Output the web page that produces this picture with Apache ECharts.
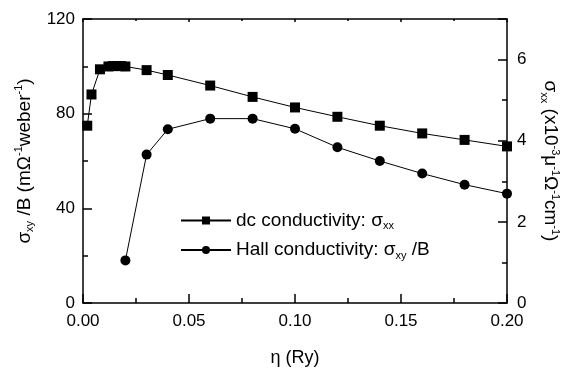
<!DOCTYPE html>
<html>
<head>
  <meta charset="utf-8">
  <title>Conductivity vs eta</title>
  <script src="https://cdn.jsdelivr.net/npm/echarts@6/dist/echarts.min.js"></script>
  <style>
    html, body { margin: 0; padding: 0; background: #fff; }
  </style>
</head>
<body>
<div id="main" style="width: 565px;height: 369px"></div>
<script type="text/javascript">
  // eta (Ry) for the dc points and the Hall points
  var etaDc = [0.002, 0.004, 0.008, 0.012, 0.014, 0.016, 0.018, 0.020, 0.030, 0.040,
               0.060, 0.080, 0.100, 0.120, 0.140, 0.160, 0.180, 0.200];
  var sigmaXX = [4.37, 5.14, 5.76, 5.83, 5.84, 5.84, 5.84, 5.83, 5.74, 5.62,
                 5.36, 5.08, 4.82, 4.59, 4.37, 4.18, 4.02, 3.86];
  var etaHall = [0.02, 0.03, 0.04, 0.06, 0.08, 0.10, 0.12, 0.14, 0.16, 0.18, 0.20];
  var hallB = [18.0, 62.7, 73.4, 77.9, 77.9, 73.6, 65.8, 60.0, 54.7, 50.0, 46.2];

  function pairs(xs, ys) {
    var out = [];
    for (var i = 0; i < xs.length; i++) out.push([xs[i], ys[i]]);
    return out;
  }

  var font = 'Liberation Sans, Arial, sans-serif';
  var rich = {
    t: { fontSize: 19, lineHeight: 22, color: '#000', fontFamily: font },
    b: { fontSize: 11, lineHeight: 11, verticalAlign: 'bottom', color: '#000', fontFamily: font },
    p: { fontSize: 11, lineHeight: 11, verticalAlign: 'top', color: '#000', fontFamily: font }
  };
  function axisLine() { return { show: true, onZero: false, lineStyle: { color: '#000', width: 1.5 } }; }
  function tick(len) { return { show: true, inside: true, length: len, lineStyle: { color: '#000', width: 1.5 } }; }
  function minor(len) { return { show: true, splitNumber: 2, length: len, lineStyle: { color: '#000', width: 1.5 } }; }

  var myChart = echarts.init(document.getElementById('main'));
  var option = {
    animation: false,
    grid: { left: 83, right: 58, top: 19, bottom: 66, outerBoundsMode: 'none' },
    legend: {
      orient: 'vertical',
      left: 175,
      top: 206,
      itemWidth: 50,
      itemHeight: 10,
      itemGap: 9,
      data: ['dc', 'hall'],
      formatter: function (name) {
        return name === 'dc'
          ? '{t|dc conductivity: σ}{b|xx}'
          : '{t|Hall conductivity: σ}{b|xy}{t| /B}';
      },
      textStyle: { rich: rich }
    },
    xAxis: [{
      type: 'value', min: 0, max: 0.2, interval: 0.05,
      name: 'η (Ry)', nameLocation: 'middle', nameGap: 46,
      nameTextStyle: { fontSize: 18, color: '#000', fontFamily: font },
      axisLine: axisLine(),
      axisTick: tick(9),
      minorTick: minor(5),
      axisLabel: { fontSize: 17, color: '#000', fontFamily: font, margin: 10,
        formatter: function (v) { return v.toFixed(2); } },
      splitLine: { show: false },
      minorSplitLine: { show: false }
    }, {
      type: 'value', min: 0, max: 0.2, interval: 0.05, position: 'top',
      axisLine: axisLine(),
      axisTick: tick(3),
      minorTick: minor(2),
      axisLabel: { show: false },
      splitLine: { show: false }
    }],
    yAxis: [{
      type: 'value', min: 0, max: 120, interval: 40,
      name: '{t|σ}{b|xy}{t| /B (mΩ}{p|-1}{t|weber}{p|-1}{t|)}',
      nameLocation: 'middle', nameRotate: 90, nameGap: 38,
      nameTextStyle: { rich: rich },
      axisLine: axisLine(),
      axisTick: tick(9),
      minorTick: minor(5),
      axisLabel: { fontSize: 17, color: '#000', fontFamily: font, margin: 8 },
      splitLine: { show: false }
    }, {
      type: 'value', min: 0, max: 7, interval: 2, position: 'right',
      name: '{t|σ}{b|xx}{t| (x10}{p|-3}{t|μ}{p|-1}{t|Ω}{p|-1}{t|cm}{p|-1}{t|)}',
      nameLocation: 'middle', nameRotate: -90, nameGap: 32,
      nameTextStyle: { rich: rich },
      axisLine: axisLine(),
      axisTick: tick(9),
      minorTick: minor(5),
      axisLabel: { fontSize: 17, color: '#000', fontFamily: font, margin: 10, showMaxLabel: false },
      splitLine: { show: false }
    }],
    series: [{
      name: 'dc',
      type: 'line',
      yAxisIndex: 1,
      data: pairs(etaDc, sigmaXX),
      symbol: 'rect',
      symbolSize: 10,
      clip: false,
      itemStyle: { color: '#000' },
      lineStyle: { color: '#000', width: 1 }
    }, {
      name: 'hall',
      type: 'line',
      yAxisIndex: 0,
      data: pairs(etaHall, hallB),
      symbol: 'circle',
      symbolSize: 10,
      clip: false,
      itemStyle: { color: '#000' },
      lineStyle: { color: '#000', width: 1 }
    }]
  };
  myChart.setOption(option);
</script>
</body>
</html>
